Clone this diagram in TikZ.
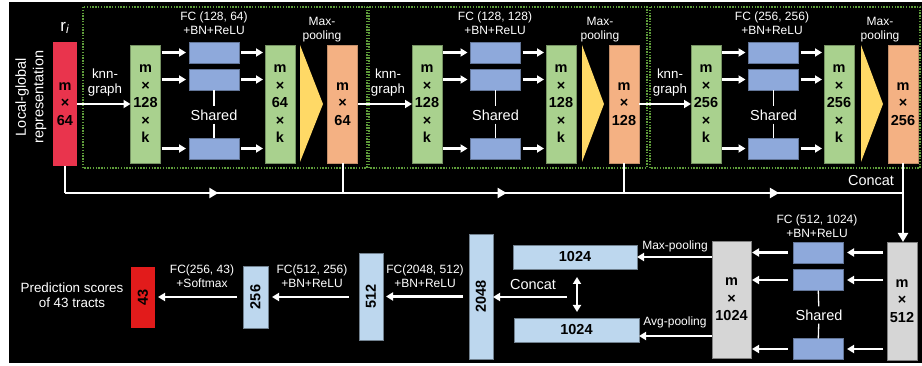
\documentclass[tikz,border=0pt]{standalone}
\usepackage{fontspec}
\setmainfont{Liberation Sans}
\usetikzlibrary{arrows.meta, positioning, decorations.markings}

\definecolor{inred}{HTML}{E9344D}
\definecolor{outred}{HTML}{E21B1B}
\definecolor{featgreen}{HTML}{A9D18E}
\definecolor{fcblue}{HTML}{8EA9DB}
\definecolor{poolyellow}{HTML}{FFD966}
\definecolor{poolorange}{HTML}{F4B183}
\definecolor{featgray}{HTML}{D6D6D6}
\definecolor{vecblue}{HTML}{BDD7EE}
\definecolor{dotgreen}{HTML}{5E9C3A}

\newcommand{\boxfont}{\fontsize{14.5}{17.5}\selectfont\bfseries}
\newcommand{\lblfont}{\fontsize{12}{14}\selectfont}
\newcommand{\bigfont}{\fontsize{14.5}{17.5}\selectfont}
\newcommand{\knnfont}{\fontsize{13.3}{15}\selectfont}

\tikzset{
    box/.style={inner sep=0pt, outer sep=0pt, align=center, font=\boxfont, line width=0.4pt},
    feat/.style={box, fill=featgreen, draw=featgreen!70!black, minimum width=30, minimum height=118},
    fc/.style={box, fill=fcblue, draw=fcblue!70!black, minimum width=50, minimum height=21},
    pool/.style={box, fill=poolorange, draw=poolorange!80!black, minimum width=30, minimum height=118},
    graybox/.style={box, fill=featgray, draw=featgray!60!black},
    vec/.style={box, fill=vecblue, draw=vecblue!60!black},
    lbl/.style={text=white, font=\lblfont, align=center, inner sep=0pt},
    bigl/.style={text=white, font=\bigfont, align=center, inner sep=3pt},
    arr/.style={white, line width=2.5pt, -{Triangle[length=7pt, width=8pt]}},
    wline/.style={white, line width=2pt},
    shareline/.style={white, line width=1.3pt},
    dotframe/.style={dotgreen, line width=1.1pt, dash pattern=on 1.4pt off 1.4pt},
    midarrows/.style={postaction={decorate}, decoration={markings,
        mark=at position 0.183 with {\arrow{Triangle[length=9pt, width=10pt]}},
        mark=at position 0.527 with {\arrow{Triangle[length=9pt, width=10pt]}},
        mark=at position 0.852 with {\arrow{Triangle[length=9pt, width=10pt]}}}}
}

\begin{document}
\begin{tikzpicture}[x=1pt, y=-1pt]
    \useasboundingbox (0,0) rectangle (922,366);
    \fill[black] (9,2) rectangle (922,363);

    % input features
    \node[box, fill=inred, minimum width=24, minimum height=124] (ri) at (65,104) {m\\×\\64};
    \node[text=white, font=\fontsize{17}{17}\selectfont, inner sep=0pt, above=8pt of ri] (rilbl) {r\textsubscript{\textit{i}}};
    \node[lbl, font=\bigfont, rotate=90] (lgrep) at (31,97) {Local-global\\representation};

    % edge conv block 1
    \draw[dotframe] (83,7) rectangle (367,168);
    \node[lbl, font=\knnfont] (knn1) at (105,83) {knn-\\graph};
    \node[feat] (nbr1) at (145.5,104) {m\\×\\128\\×\\k};
    \node[fc] (fc1a) at (214,52.5) {};
    \node[fc] (fc1b) at (214,79.5) {};
    \node[fc] (fc1c) at (214,148.5) {};
    \node[bigl] (sh1) at (214,115) {Shared};
    \node[lbl] (fc1lbl) at (214,23) {FC (128, 64)\\+BN+ReLU};
    \node[feat] (out1) at (280,104) {m\\×\\64\\×\\k};
    \fill[poolyellow] (300,45) -- (323,104) -- (300,162) -- cycle;
    \node[lbl] (mp1) at (322,30) {Max-\\pooling};
    \node[pool] (pool1) at (342.5,104) {m\\×\\64};

    % edge conv block 2
    \draw[dotframe] (369,7) rectangle (647,168);
    \node[lbl, font=\knnfont] (knn2) at (388,83) {knn-\\graph};
    \node[feat] (nbr2) at (427,104) {m\\×\\128\\×\\k};
    \node[fc] (fc2a) at (495.5,52.5) {};
    \node[fc] (fc2b) at (495.5,79.5) {};
    \node[fc] (fc2c) at (495.5,148.5) {};
    \node[bigl] (sh2) at (495.5,115) {Shared};
    \node[lbl] (fc2lbl) at (495,23) {FC (128, 128)\\+BN+ReLU};
    \node[feat] (out2) at (561,104) {m\\×\\128\\×\\k};
    \fill[poolyellow] (582,45) -- (604,104) -- (582,162) -- cycle;
    \node[lbl] (mp2) at (600,30) {Max-\\pooling};
    \node[pool] (pool2) at (624,104) {m\\×\\128};

    % edge conv block 3
    \draw[dotframe] (650,7) rectangle (920,168);
    \node[lbl, font=\knnfont] (knn3) at (670,83) {knn-\\graph};
    \node[feat] (nbr3) at (706,104) {m\\×\\256\\×\\k};
    \node[fc] (fc3a) at (773.5,52.5) {};
    \node[fc] (fc3b) at (773.5,79.5) {};
    \node[fc] (fc3c) at (773.5,148.5) {};
    \node[bigl] (sh3) at (773.5,115) {Shared};
    \node[lbl] (fc3lbl) at (772,23) {FC (256, 256)\\+BN+ReLU};
    \node[feat] (out3) at (839,104) {m\\×\\256\\×\\k};
    \fill[poolyellow] (861,45) -- (883,104) -- (861,162) -- cycle;
    \node[lbl] (mp3) at (880,30) {Max-\\pooling};
    \node[pool] (pool3) at (903,104) {m\\×\\256};

    % top arrows
    \draw[arr] (ri) -- (nbr1);
    \draw[arr] (pool1) -- (nbr2);
    \draw[arr] (pool2) -- (nbr3);
    \draw[arr, shorten <=1pt, shorten >=3pt] (nbr1.east |- fc1a) -- (fc1a);
    \draw[arr, shorten <=1pt, shorten >=3pt] (nbr1.east |- fc1b) -- (fc1b);
    \draw[arr, shorten <=1pt, shorten >=3pt] (nbr1.east |- fc1c) -- (fc1c);
    \draw[arr, shorten <=2pt, shorten >=2pt] (fc1a) -- (out1.west |- fc1a);
    \draw[arr, shorten <=2pt, shorten >=2pt] (fc1b) -- (out1.west |- fc1b);
    \draw[arr, shorten <=2pt, shorten >=2pt] (fc1c) -- (out1.west |- fc1c);
    \draw[arr, shorten <=1pt, shorten >=3pt] (nbr2.east |- fc2a) -- (fc2a);
    \draw[arr, shorten <=1pt, shorten >=3pt] (nbr2.east |- fc2b) -- (fc2b);
    \draw[arr, shorten <=1pt, shorten >=3pt] (nbr2.east |- fc2c) -- (fc2c);
    \draw[arr, shorten <=2pt, shorten >=2pt] (fc2a) -- (out2.west |- fc2a);
    \draw[arr, shorten <=2pt, shorten >=2pt] (fc2b) -- (out2.west |- fc2b);
    \draw[arr, shorten <=2pt, shorten >=2pt] (fc2c) -- (out2.west |- fc2c);
    \draw[arr, shorten <=1pt, shorten >=3pt] (nbr3.east |- fc3a) -- (fc3a);
    \draw[arr, shorten <=1pt, shorten >=3pt] (nbr3.east |- fc3b) -- (fc3b);
    \draw[arr, shorten <=1pt, shorten >=3pt] (nbr3.east |- fc3c) -- (fc3c);
    \draw[arr, shorten <=2pt, shorten >=2pt] (fc3a) -- (out3.west |- fc3a);
    \draw[arr, shorten <=2pt, shorten >=2pt] (fc3b) -- (out3.west |- fc3b);
    \draw[arr, shorten <=2pt, shorten >=2pt] (fc3c) -- (out3.west |- fc3c);
    \draw[shareline] (fc1b) -- (sh1) -- (fc1c);
    \draw[shareline] (fc2b) -- (sh2) -- (fc2c);
    \draw[shareline] (fc3b) -- (sh3) -- (fc3c);

    % skip connections to concat
    \coordinate (busL) at (65,193);
    \coordinate (busR) at (903,193);
    \draw[wline] (ri.south) -- (busL);
    \draw[wline, midarrows] (busL) -- (busR);
    \draw[wline] (pool1.south) -- (pool1.south |- busL);
    \draw[wline] (pool2.south) -- (pool2.south |- busL);
    \node[bigl] (cat1) at (871,181) {Concat};

    % global block
    \node[graybox, minimum width=30, minimum height=118] (in512) at (902,301) {m\\×\\512};
    \draw[wline, -{Triangle[length=9pt, width=10pt]}] (pool3.south) -- (pool3.south |- in512.north);
    \node[fc] (fc4a) at (818,252.5) {};
    \node[fc] (fc4b) at (818,280) {};
    \node[fc] (fc4c) at (818,349) {};
    \node[bigl] (sh4) at (819,315) {Shared};
    \node[lbl] (fc4lbl) at (817,226) {FC (512, 1024)\\+BN+ReLU};
    \node[graybox, minimum width=39, minimum height=117] (out1024) at (731.5,299.5) {m\\×\\1024};
    \draw[arr, shorten <=4pt, shorten >=4pt] (in512.west |- fc4a) -- (fc4a);
    \draw[arr, shorten <=4pt, shorten >=4pt] (in512.west |- fc4b) -- (fc4b);
    \draw[arr, shorten <=4pt, shorten >=4pt] (in512.west |- fc4c) -- (fc4c);
    \draw[arr, shorten <=5pt, shorten >=1pt] (fc4a) -- (out1024.east |- fc4a);
    \draw[arr, shorten <=5pt, shorten >=1pt] (fc4b) -- (out1024.east |- fc4b);
    \draw[arr, shorten <=5pt, shorten >=1pt] (fc4c) -- (out1024.east |- fc4c);
    \draw[shareline] (fc4b) -- (sh4) -- (fc4c);

    % pooled vectors
    \node[vec, minimum width=124, minimum height=24] (maxv) at (575,257) {1024};
    \node[vec, minimum width=125, minimum height=24] (avgv) at (576.5,330) {1024};
    \coordinate (avgin) at ([yshift=-6pt]avgv.east);
    \draw[arr] (out1024.west |- maxv) -- (maxv);
    \draw[arr] (out1024.west |- avgin) -- (avgin);
    \node[lbl] (maxlbl) at (675,246) {Max-pooling};
    \node[lbl] (avglbl) at (675,322) {Avg-pooling};
    \draw[wline, {Triangle[length=7pt, width=8pt]}-{Triangle[length=7pt, width=8pt]}, shorten <=8pt, shorten >=6pt]
        ([xshift=2pt]maxv.south) -- ([xshift=0.5pt]avgv.north);

    % classifier
    \node[vec, minimum width=24, minimum height=125, label={[rotate=90, font=\boxfont]center:2048}] (v2048) at (481,296.5) {};
    \node[vec, minimum width=24, minimum height=87, label={[rotate=90, font=\boxfont]center:512}] (v512) at (371,296.5) {};
    \node[vec, minimum width=25, minimum height=62, label={[rotate=90, font=\boxfont]center:256}] (v256) at (255.5,297) {};
    \node[box, fill=outred, minimum width=24, minimum height=61, label={[rotate=90, font=\boxfont]center:43}] (score) at (143,297.5) {};
    \coordinate (catin) at (567,297);
    \draw[arr] (catin) -- (v2048.east |- catin);
    \node[bigl] (cat2) at (533,285) {Concat};
    \draw[arr, shorten <=6pt, shorten >=3pt] (v2048) -- (v512);
    \draw[arr, shorten <=10pt, shorten >=4pt] (v512.west |- v256) -- (v256);
    \draw[arr, shorten <=6pt, shorten >=3pt] (v256) -- (score.east |- v256);
    \node[lbl] (fc5lbl) at (425,276) {FC(2048, 512)\\+BN+ReLU};
    \node[lbl] (fc6lbl) at (312,276) {FC(512, 256)\\+BN+ReLU};
    \node[lbl] (fc7lbl) at (202,276) {FC(256, 43)\\+Softmax};
    \node[lbl, font=\fontsize{13.4}{15.5}\selectfont] (pred) at (72,295) {Prediction scores\\of 43 tracts};
\end{tikzpicture}
\end{document}
